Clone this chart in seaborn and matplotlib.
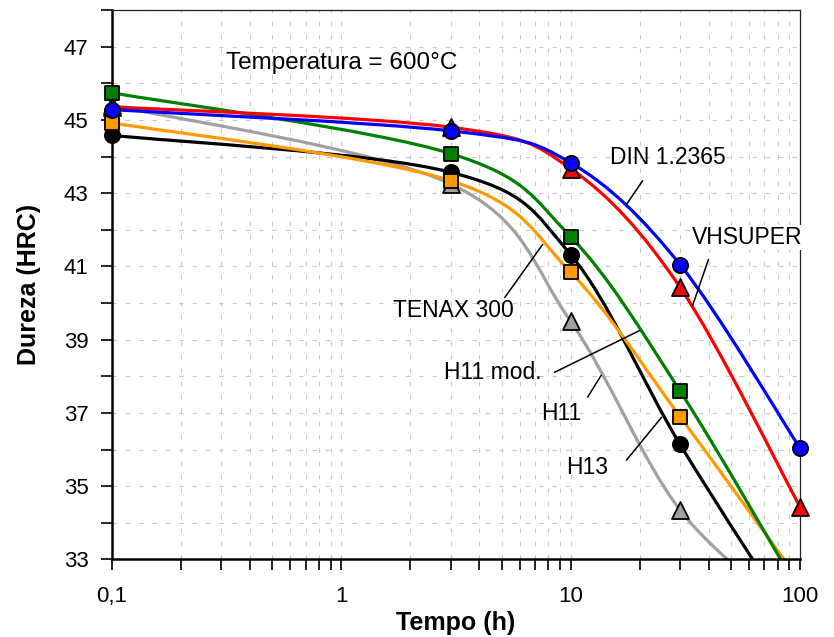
import numpy as np
import pandas as pd
import matplotlib
matplotlib.use('Agg')
import matplotlib.pyplot as plt
from matplotlib.path import Path
from matplotlib.patches import PathPatch
from matplotlib.ticker import FixedLocator, NullFormatter, MultipleLocator
import seaborn as sns

# tempo (h) and hardness (HRC)
tempo = [0.1, 3, 10, 30, 100]
h13 = [45.40, 43.25, 39.50, 34.35, 31.4]        # gray triangles
h11 = [44.58, 43.57, 41.32, 36.14, 31.0]        # black circles
tenax300 = [44.92, 43.34, 40.84, 36.90, 32.4]   # orange squares
h11mod = [45.74, 44.08, 41.81, 37.60, 32.1]     # green squares
vhsuper = [45.36, 44.80, 43.67, 40.43, 34.44]   # red triangles
din12365 = [45.28, 44.70, 43.83, 41.05, 36.04]  # blue circles

series = [
    ('H13', h13, '#a0a0a0', '^', 150),
    ('H11', h11, '#000000', 'o', 120),
    ('TENAX 300', tenax300, '#ff9900', 's', 110),
    ('H11 mod.', h11mod, '#008000', 's', 110),
    ('VHSUPER', vhsuper, '#ff0000', '^', 150),
    ('DIN 1.2365', din12365, '#0000ff', 'o', 120),
]

# label text, text anchor, leader line (from, to)
labels = [
    ('DIN 1.2365', (14.8, 43.97), (20.6, 43.34), (17.5, 42.69)),
    ('VHSUPER', (33.7, 41.79), (39.9, 41.19), (34.0, 39.93)),
    ('TENAX 300', (1.68, 39.80), (5.16, 40.15), (7.55, 41.60)),
    ('H11 mod.', (2.80, 38.11), (8.51, 38.11), (20.0, 39.25)),
    ('H11', (7.47, 36.99), (11.86, 37.43), (13.6, 38.03)),
    ('H13', (9.51, 35.52), (17.5, 35.71), (24.9, 36.88)),
]

sns.set_theme(style='white')
plt.rcParams['font.family'] = ['Liberation Sans', 'DejaVu Sans']


def smooth_path(x, y):
    # Excel-style smoothed line: cubic Bezier segments in (log x, y) space
    lx = np.log10(x)
    pts = np.column_stack([lx, y])
    n = len(pts)
    verts = [pts[0]]
    codes = [Path.MOVETO]
    for i in range(n - 1):
        p0 = pts[i - 1] if i > 0 else pts[i]
        p3 = pts[i + 2] if i + 2 < n else pts[i + 1]
        c1 = pts[i] + (pts[i + 1] - p0) / 6
        c2 = pts[i + 1] - (p3 - pts[i]) / 6
        verts += [c1, c2, pts[i + 1]]
        codes += [Path.CURVE4] * 3
    verts = np.array(verts)
    verts[:, 0] = 10 ** verts[:, 0]
    return Path(verts, codes)


fig = plt.figure(figsize=(8.34, 6.37), dpi=100)
ax = fig.add_axes([0.1343, 0.1217, 0.8249, 0.8626])
ax.set_xscale('log')
ax.set_xlim(0.1, 100)
ax.set_ylim(33, 48)

for name, vals, color, marker, size in series:
    patch = PathPatch(smooth_path(tempo, vals), facecolor='none', edgecolor=color,
                      lw=2.3, capstyle='round', joinstyle='round')
    ax.add_patch(patch)
    df = pd.DataFrame({'tempo': tempo, 'hrc': vals})
    df = df[df['hrc'] >= 33]  # points below the axis are not shown
    sns.scatterplot(data=df, x='tempo', y='hrc', marker=marker, s=size, color=color,
                    edgecolor='black', linewidth=1.3, ax=ax, zorder=3, clip_on=False)

# grid and ticks
ax.set_yticks([33, 35, 37, 39, 41, 43, 45, 47])
ax.yaxis.set_minor_locator(FixedLocator([34, 36, 38, 40, 42, 44, 46, 48]))
ax.xaxis.set_major_locator(FixedLocator([0.1, 1, 10, 100]))
ax.set_xticklabels(['0,1', '1', '10', '100'])
ax.xaxis.set_minor_formatter(NullFormatter())
ax.grid(True, which='both', color='#c8c8c8', lw=0.8, linestyle=(0, (4, 8)))
ax.tick_params(which='both', direction='out', length=8, width=1.2, color='black',
               bottom=True, left=True, labelsize=16, labelcolor='black')
ax.tick_params(axis='y', pad=9)
ax.tick_params(axis='x', pad=11)

for side in ['left', 'bottom']:
    ax.spines[side].set_linewidth(1.8)
    ax.spines[side].set_color('black')
for side in ['top', 'right']:
    ax.spines[side].set_linewidth(0.9)
    ax.spines[side].set_color('#222222')

ax.set_xlabel('Tempo (h)', fontsize=18, fontweight='bold', labelpad=3, color='black')
ax.set_ylabel('Dureza (HRC)', fontsize=18, fontweight='bold', labelpad=16, color='black')

ax.text(1.0, 46.56, 'Temperatura = 600°C', fontsize=17.5, ha='center', va='center', color='black')
for text, (tx, ty), (x1, y1), (x2, y2) in labels:
    t = ax.text(tx, ty, text, fontsize=16.5, ha='left', va='center', zorder=5,
                clip_on=False, color='black')
    if text == 'VHSUPER':
        t.set_bbox(dict(facecolor='white', edgecolor='none', pad=1))
    ax.plot([x1, x2], [y1, y2], color='black', lw=1.1, zorder=4)

fig.savefig('out.png', dpi=100)
